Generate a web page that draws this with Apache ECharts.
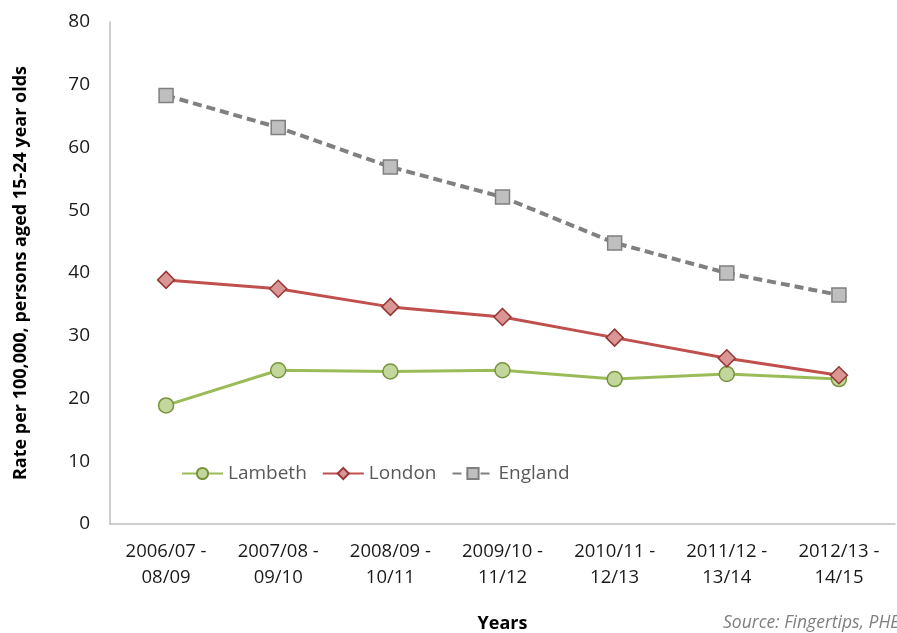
<!DOCTYPE html>
<html>
<head>
<meta charset="utf-8">
<script src="https://cdn.jsdelivr.net/npm/echarts@6/dist/echarts.min.js"></script>
<style>
  html, body { margin: 0; padding: 0; background: #fff; }
  #chart { width: 897px; height: 633px; }
</style>
</head>
<body>
<div id="chart"></div>
<script>
// Rolling three-year periods
const periods = ['2006/07 -\n08/09', '2007/08 -\n09/10', '2008/09 -\n10/11', '2009/10 -\n11/12',
                 '2010/11 -\n12/13', '2011/12 -\n13/14', '2012/13 -\n14/15'];

// Rate per 100,000 persons aged 15-24
const lambeth = [18.9, 24.5, 24.3, 24.5, 23.1, 23.9, 23.1];
const london  = [38.9, 37.5, 34.6, 33.0, 29.7, 26.4, 23.7];
const england = [68.3, 63.2, 56.9, 52.1, 44.8, 40.0, 36.5];

const yTicks = { min: 0, max: 80, interval: 10 };

const FONT = "'Open Sans', 'Liberation Sans', sans-serif";

const chart = echarts.init(document.getElementById('chart'));
chart.setOption({
  backgroundColor: '#ffffff',
  animation: false,
  textStyle: { fontFamily: FONT },
  grid: { left: 110, right: 2, top: 22, bottom: 109, outerBoundsMode: 'none', containLabel: false },
  legend: {
    left: 181, top: 464, padding: 0,
    itemWidth: 41, itemHeight: 14, itemGap: 15,
    textStyle: { fontSize: 19, color: '#595959', fontFamily: FONT },
    data: ['Lambeth', 'London', 'England']
  },
  xAxis: {
    type: 'category',
    data: periods,
    boundaryGap: true,
    axisLine: { lineStyle: { color: '#bfbfbf', width: 1.5 } },
    axisTick: { show: false },
    axisLabel: { color: '#1a1a1a', fontSize: 18.5, lineHeight: 26, margin: 15, interval: 0 },
    name: 'Years',
    nameLocation: 'middle',
    nameGap: 91,
    nameTextStyle: { fontWeight: 'bold', fontSize: 18, color: '#000' }
  },
  yAxis: {
    type: 'value',
    min: yTicks.min, max: yTicks.max, interval: yTicks.interval,
    axisLine: { show: true, lineStyle: { color: '#bfbfbf', width: 1.5 } },
    axisTick: { show: false },
    splitLine: { show: false },
    axisLabel: { color: '#1a1a1a', fontSize: 19, margin: 20 },
    name: 'Rate per 100,000, persons aged 15-24 year olds',
    nameLocation: 'middle',
    nameGap: 80,
    nameRotate: 90,
    nameTextStyle: { fontWeight: 'bold', fontSize: 18, color: '#000' }
  },
  series: [
    {
      name: 'Lambeth', type: 'line', data: lambeth,
      symbol: 'circle', symbolSize: 15,
      lineStyle: { color: '#9bbb59', width: 3 },
      itemStyle: { color: '#c3d69b', borderColor: '#77933c', borderWidth: 1.5 },
      z: 2
    },
    {
      name: 'London', type: 'line', data: london,
      symbol: 'diamond', symbolSize: [17, 17],
      lineStyle: { color: '#c0504d', width: 3 },
      itemStyle: { color: '#d99694', borderColor: '#953735', borderWidth: 1.5 },
      z: 3
    },
    {
      name: 'England', type: 'line', data: england,
      symbol: 'rect', symbolSize: 14,
      lineStyle: { color: '#808080', width: 4, type: [9, 5] },
      itemStyle: { color: '#bfbfbf', borderColor: '#7f7f7f', borderWidth: 1.5 },
      z: 4
    }
  ],
  graphic: [
    {
      type: 'text', left: 723, top: 614,
      style: {
        text: 'Source: Fingertips, PHE',
        fill: '#7f7f7f', fontSize: 17.5, fontStyle: 'italic', fontFamily: FONT
      }
    }
  ]
});
</script>
</body>
</html>
